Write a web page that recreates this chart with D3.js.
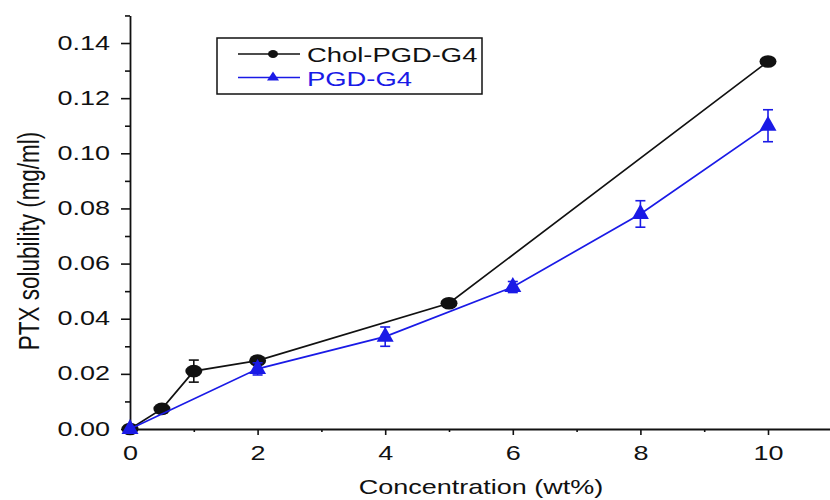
<!DOCTYPE html>
<html>
<head>
<meta charset="utf-8">
<script src="https://cdn.jsdelivr.net/npm/d3@7"></script>
<style>
  html, body { margin: 0; padding: 0; background: #fff; }
  svg { display: block; }
  text { font-family: "Liberation Sans", Arial, sans-serif; fill: #111; }
</style>
</head>
<body>
<svg id="chart" width="830" height="500"></svg>
<script>
// ---- data ----
const seriesNames = ["Chol-PGD-G4", "PGD-G4"];
const cholX = [0, 0.5, 1, 2, 5, 10];
const cholY = [0, 0.0073, 0.021, 0.0248, 0.0456, 0.1333];
const cholErr = [0, 0, 0.004, 0, 0, 0];
const pgdX = [0, 2, 4, 6, 8, 10];
const pgdY = [0, 0.0218, 0.0335, 0.0515, 0.0780, 0.1100];
const pgdErr = [0, 0.0022, 0.0035, 0.002, 0.0048, 0.0058];
const xMajorTicks = [0, 2, 4, 6, 8, 10];
const xMinorTicks = [1, 3, 5, 7, 9, 11];
const yMajorTicks = [0, 0.02, 0.04, 0.06, 0.08, 0.10, 0.12, 0.14];
const yMinorTicks = [0.01, 0.03, 0.05, 0.07, 0.09, 0.11, 0.13, 0.15];
const xTitle = "Concentration (wt%)";
const yTitle = "PTX solubility (mg/ml)";

// ---- layout ----
const SX = 1.35; // horizontal stretch of the original picture
const svg = d3.select("#chart");
const x = d3.scaleLinear().domain([0, 11]).range([130, 130 + 11 * 63.8]);
const y = d3.scaleLinear().domain([0, 0.15]).range([429, 429 - 0.15 * 2757]);
const blue = "#1a1ae6";

// minor ticks
svg.append("g").attr("transform", "translate(130,0)")
  .call(d3.axisLeft(y).tickValues(yMinorTicks).tickSize(5).tickSizeOuter(0).tickFormat(""))
  .call(g => g.select(".domain").remove());
svg.append("g").attr("transform", "translate(0,429)")
  .call(d3.axisBottom(x).tickValues(xMinorTicks).tickSize(3).tickSizeOuter(0).tickFormat(""))
  .call(g => g.select(".domain").remove());

// major y axis
const gy = svg.append("g").attr("transform", "translate(130,0)")
  .call(d3.axisLeft(y).tickValues(yMajorTicks).tickSize(9).tickSizeOuter(0).tickFormat(d3.format(".2f")));
gy.selectAll("text")
  .attr("x", -20 / SX).attr("dy", "0.30em")
  .attr("transform", `scale(${SX},1)`)
  .style("font-size", "20px").attr("fill", "#111");

// major x axis
const gx = svg.append("g").attr("transform", "translate(0,429)")
  .call(d3.axisBottom(x).tickValues(xMajorTicks).tickSize(6).tickSizeOuter(0).tickFormat(d3.format("d")));
gx.selectAll("text")
  .attr("y", 17).attr("dy", "0.71em")
  .attr("transform", `scale(${SX},1)`)
  .style("font-size", "20px").attr("fill", "#111");

svg.selectAll(".tick line").attr("stroke", "#111").attr("stroke-width", 1.6);
svg.selectAll(".domain").attr("stroke", "#111").attr("stroke-width", 1.8);

// axis titles
svg.append("text")
  .attr("transform", `translate(481,494) scale(${SX},1)`)
  .attr("text-anchor", "middle")
  .style("font-size", "20px")
  .text(xTitle);
svg.append("text")
  .attr("transform", `translate(39,241) scale(1.3,1) rotate(-90)`)
  .attr("text-anchor", "middle")
  .style("font-size", "22.5px")
  .text(yTitle);

// ---- series ----
const chol = cholX.map((d, i) => ({ x: d, y: cholY[i], e: cholErr[i] }));
const pgd = pgdX.map((d, i) => ({ x: d, y: pgdY[i], e: pgdErr[i] }));
const line = d3.line().x(d => x(d.x)).y(d => y(d.y));

function errorBars(data, color) {
  const g = svg.append("g").attr("stroke", color).attr("stroke-width", 1.6);
  data.filter(d => d.e > 0).forEach(d => {
    const cx = x(d.x), y1 = y(d.y + d.e), y2 = y(d.y - d.e);
    g.append("line").attr("x1", cx).attr("x2", cx).attr("y1", y1).attr("y2", y2);
    g.append("line").attr("x1", cx - 5).attr("x2", cx + 5).attr("y1", y1).attr("y2", y1);
    g.append("line").attr("x1", cx - 5).attr("x2", cx + 5).attr("y1", y2).attr("y2", y2);
  });
}

const triPath = (w, h) => `M0,${-h * 2 / 3}L${w / 2},${h / 3}L${-w / 2},${h / 3}Z`;

// Chol-PGD-G4
svg.append("path").datum(chol).attr("d", line)
  .attr("fill", "none").attr("stroke", "#111").attr("stroke-width", 1.7);
errorBars(chol, "#111");
svg.append("g").selectAll("ellipse").data(chol).join("ellipse")
  .attr("cx", d => x(d.x)).attr("cy", d => y(d.y))
  .attr("rx", 8.5).attr("ry", 6.3).attr("fill", "#111");

// PGD-G4
svg.append("path").datum(pgd).attr("d", line)
  .attr("fill", "none").attr("stroke", blue).attr("stroke-width", 1.7);
errorBars(pgd, blue);
svg.append("g").selectAll("path").data(pgd).join("path")
  .attr("transform", d => `translate(${x(d.x)},${y(d.y)})`)
  .attr("d", triPath(17, 15)).attr("fill", blue);

// ---- legend ----
const lg = svg.append("g");
lg.append("rect").attr("x", 217).attr("y", 38).attr("width", 265).attr("height", 56)
  .attr("fill", "none").attr("stroke", "#111").attr("stroke-width", 1.5);
const legendColors = ["#111", blue];
const legendRows = [54, 77.5];
seriesNames.forEach((name, i) => {
  const yy = legendRows[i];
  lg.append("line").attr("x1", 238).attr("x2", 300).attr("y1", yy).attr("y2", yy)
    .attr("stroke", legendColors[i]).attr("stroke-width", 1.6);
  if (i === 0) {
    lg.append("ellipse").attr("cx", 273).attr("cy", yy).attr("rx", 5).attr("ry", 4).attr("fill", "#111");
  } else {
    lg.append("path").attr("transform", `translate(273,${yy})`).attr("d", triPath(12, 9)).attr("fill", blue);
  }
  lg.append("text")
    .attr("transform", `translate(307,${yy + 8}) scale(1.37,1)`)
    .style("font-size", "20px")
    .style("fill", i === 0 ? "#111" : blue)
    .text(name);
});
</script>
</body>
</html>
